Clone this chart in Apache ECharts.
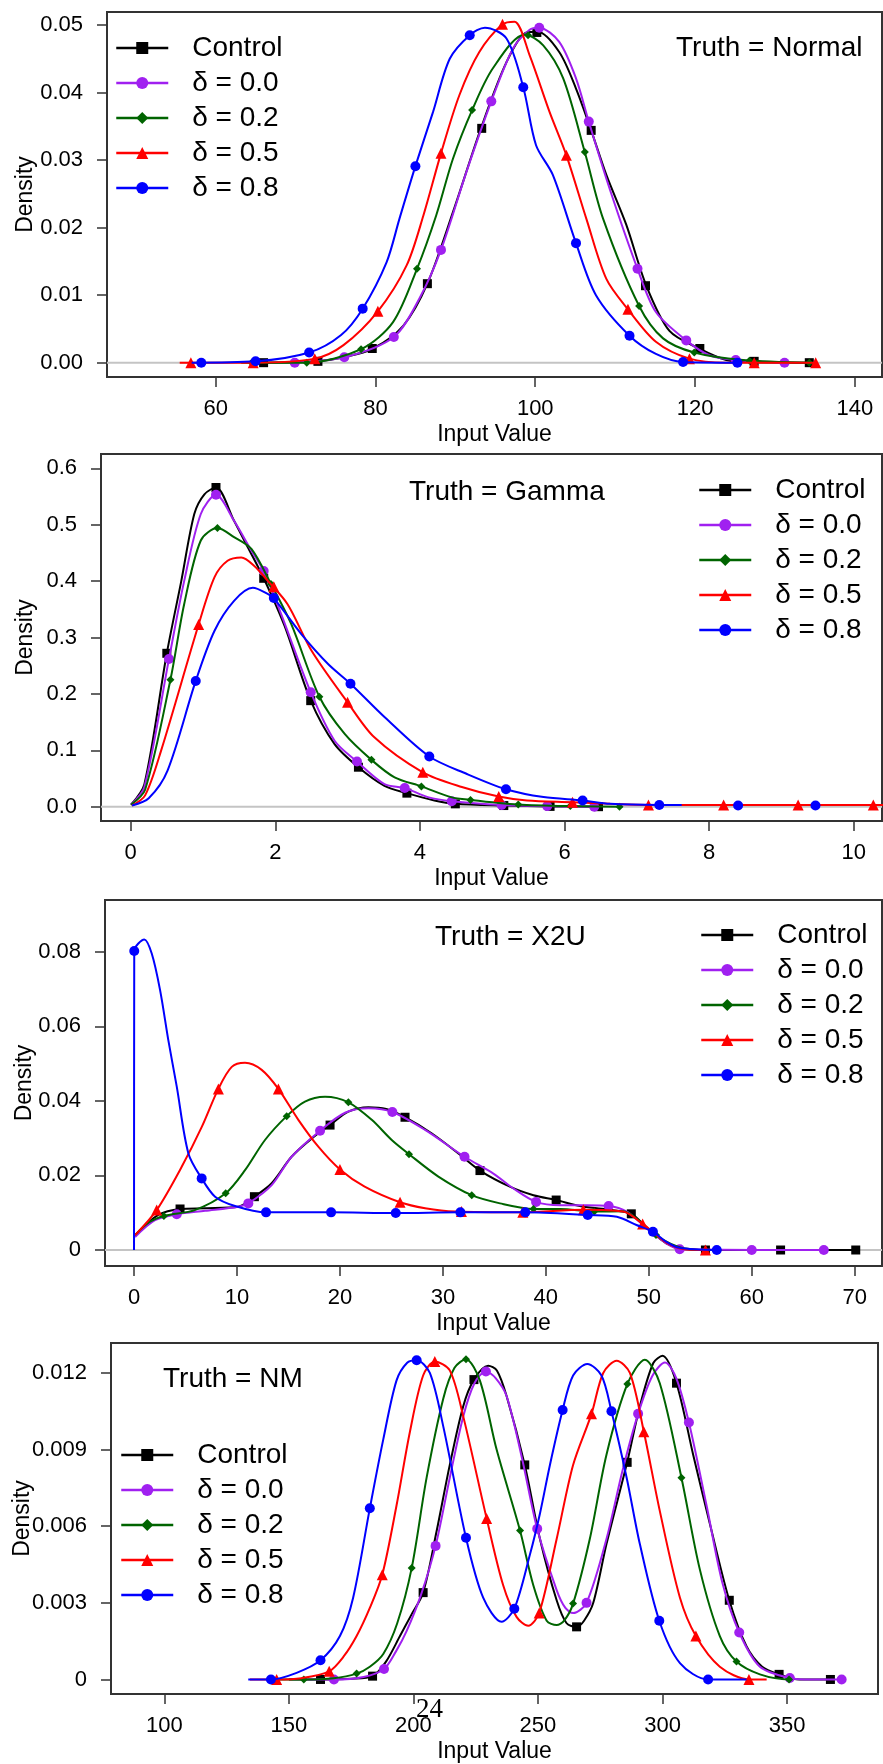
<!DOCTYPE html>
<html>
<head>
<meta charset="utf-8">
<script src="https://cdn.jsdelivr.net/npm/echarts@6/dist/echarts.min.js"></script>
<style>
html,body{margin:0;padding:0;background:#fff;}
#chart{width:883px;height:1764px;}
</style>
</head>
<body>
<div id="chart"></div>
<script>
// ---------------- DATA ----------------
const seriesNames = ['Control', 'δ = 0.0', 'δ = 0.2', 'δ = 0.5', 'δ = 0.8'];
const panelTitles = ['Truth = Normal', 'Truth = Gamma', 'Truth = X2U', 'Truth = NM'];

const xTicks1 = [60, 80, 100, 120, 140];
const yTicks1 = [0, 0.01, 0.02, 0.03, 0.04, 0.05];
const xTicks2 = [0, 2, 4, 6, 8, 10];
const yTicks2 = [0, 0.1, 0.2, 0.3, 0.4, 0.5, 0.6];
const xTicks3 = [0, 10, 20, 30, 40, 50, 60, 70];
const yTicks3 = [0, 0.02, 0.04, 0.06, 0.08];
const xTicks4 = [100, 150, 200, 250, 300, 350];
const yTicks4 = [0, 0.003, 0.006, 0.009, 0.012];

// Panel 1: Truth = Normal
const normalControl = [[65.5,0],[72.7,0.0002],[76,0.0008],[79.7,0.0021],[83.5,0.0055],[86.5,0.0117],[89.7,0.0223],[93.2,0.0347],[96.4,0.0445],[98.9,0.0489],[100.3,0.0490],[103,0.046],[105.1,0.0406],[107,0.0344],[108.9,0.0278],[111.4,0.0204],[113.9,0.0114],[116.8,0.0047],[120.5,0.0021],[123.9,0.0004],[127.4,0.0001],[134.5,0]];
const normalD0 = [[69.3,0],[76.1,0.0008],[82.3,0.0038],[85.5,0.0095],[88.2,0.0167],[91.4,0.0283],[94.5,0.0387],[97.2,0.0465],[99.3,0.0493],[100.5,0.0496],[103,0.0475],[105.1,0.0421],[106.7,0.0357],[109.3,0.0258],[112.8,0.0139],[115.1,0.0075],[118.9,0.0033],[121.8,0.0011],[125.1,0.0004],[131.5,0]];
const normalD2 = [[63.2,0],[71.4,0],[78.2,0.002],[82.2,0.006],[85.2,0.0139],[87.6,0.0218],[89.7,0.0302],[92.1,0.0374],[94.7,0.0436],[98.7,0.0486],[101,0.047],[103.5,0.0421],[106.2,0.0312],[108.5,0.0213],[113,0.0084],[116,0.0036],[119.9,0.0015],[126,0.0004],[134.5,0]];
const normalD5 = [[55.5,0],[64.7,0],[72.4,0.0006],[76,0.0026],[80.3,0.0076],[83.9,0.0144],[86,0.0218],[88.2,0.031],[90.5,0.0396],[93,0.046],[95.9,0.0501],[97.4,0.0505],[99.3,0.0455],[101.8,0.0371],[103.9,0.0307],[106.4,0.0213],[108.9,0.0124],[111.6,0.0079],[115.1,0.0031],[119.3,0.0006],[123.9,0],[135.1,0]];
const normalD8 = [[57,0],[65,0.0002],[71.7,0.0015],[75.7,0.0041],[78.4,0.008],[81.4,0.0149],[83,0.0213],[85,0.0291],[87.2,0.0371],[89.3,0.045],[91.8,0.0485],[93.7,0.0496],[96.4,0.048],[98.5,0.0408],[100.1,0.0322],[102.2,0.0278],[105.1,0.0177],[107.6,0.01],[111.8,0.004],[115.1,0.0013],[118.5,0.0001],[125.3,0]];
const normalControlMarks = [[66,0],[72.8,0.0002],[79.6,0.0021],[86.5,0.0117],[93.3,0.0347],[100.2,0.0489],[107,0.0344],[113.8,0.0114],[120.6,0.0021],[127.4,0.0002],[134.3,0]];
const normalD0Marks = [[69.9,0],[76.1,0.0008],[82.3,0.0038],[88.2,0.0167],[94.5,0.0387],[100.5,0.0496],[106.7,0.0357],[112.8,0.0139],[118.9,0.0033],[125.1,0.0004],[131.2,0]];
const normalD2Marks = [[64.5,0],[71.4,0],[78.2,0.002],[85.2,0.0139],[92.1,0.0374],[99.1,0.0485],[106.2,0.0312],[113,0.0084],[119.9,0.0015],[126.8,0.0003],[134.3,0]];
const normalD5Marks = [[56.9,0],[64.7,0],[72.4,0.0006],[80.3,0.0076],[88.2,0.031],[95.9,0.0501],[103.9,0.0307],[111.6,0.0079],[119.3,0.0006],[127.4,0],[135.1,0]];
const normalD8Marks = [[58.2,0],[65,0.0002],[71.7,0.0015],[78.4,0.008],[85,0.0291],[91.8,0.0485],[98.5,0.0408],[105.1,0.0177],[111.8,0.004],[118.5,0.0001],[125.3,0]];

// Panel 2: Truth = Gamma
const gammaControl = [[0.005,0.0035],[0.19,0.04],[0.5,0.272],[0.7,0.40],[0.88,0.519],[1.02,0.554],[1.18,0.566],[1.43,0.507],[1.62,0.46],[1.84,0.405],[2.13,0.32],[2.49,0.188],[2.82,0.111],[3.15,0.07],[3.51,0.037],[3.82,0.024],[4.2,0.011],[4.49,0.005],[5.16,0.002],[5.8,0.0005],[6.5,0]];
const gammaD0 = [[0.005,0.0035],[0.19,0.035],[0.53,0.262],[0.74,0.40],[0.97,0.519],[1.18,0.553],[1.43,0.507],[1.67,0.454],[1.84,0.418],[2.08,0.342],[2.49,0.203],[2.82,0.117],[3.13,0.08],[3.51,0.040],[3.79,0.033],[4.11,0.017],[4.44,0.0096],[5.13,0.003],[5.76,0.001],[6.45,0]];
const gammaD2 = [[0.005,0.0035],[0.2,0.03],[0.55,0.225],[0.74,0.359],[0.97,0.472],[1.2,0.494],[1.43,0.478],[1.67,0.457],[1.94,0.395],[2.22,0.324],[2.61,0.195],[2.96,0.129],[3.33,0.083],[3.65,0.052],[4.02,0.036],[4.43,0.017],[4.7,0.012],[5.36,0.004],[6.08,0.001],[6.8,0]];
const gammaD5 = [[0.02,0.002],[0.2,0.02],[0.42,0.099],[0.94,0.323],[1.16,0.407],[1.34,0.436],[1.53,0.442],[1.71,0.427],[1.9,0.40],[2.17,0.359],[2.5,0.277],[3.0,0.185],[3.37,0.123],[4.04,0.061],[4.58,0.035],[5.09,0.018],[5.48,0.011],[6.11,0.008],[6.63,0.005],[7.16,0.003],[8.2,0.003],[9.23,0.003],[10.6,0.003]];
const gammaD8 = [[0.02,0.002],[0.25,0.015],[0.51,0.064],[0.9,0.223],[1.16,0.312],[1.43,0.365],[1.69,0.388],[1.9,0.377],[1.98,0.37],[2.36,0.306],[2.73,0.253],[3.04,0.218],[3.51,0.159],[4.13,0.089],[4.65,0.058],[5.19,0.031],[5.71,0.017],[6.25,0.011],[6.63,0.005],[7.31,0.003],[7.62,0.003]];
const gammaControlMarks = [[0.5,0.272],[1.18,0.566],[1.84,0.405],[2.49,0.188],[3.15,0.07],[3.82,0.024],[4.49,0.005],[5.16,0.002],[5.8,0.0005],[6.47,0]];
const gammaD0Marks = [[0.53,0.262],[1.18,0.553],[1.84,0.418],[2.49,0.203],[3.13,0.08],[3.79,0.033],[4.44,0.0096],[5.13,0.003],[5.76,0.001],[6.41,0]];
const gammaD2Marks = [[0.55,0.225],[1.2,0.494],[1.94,0.395],[2.61,0.195],[3.33,0.083],[4.02,0.036],[4.7,0.012],[5.36,0.004],[6.08,0.001],[6.76,0]];
const gammaD5Marks = [[0.94,0.323],[1.98,0.39],[3.0,0.185],[4.04,0.061],[5.09,0.018],[6.11,0.008],[7.16,0.003],[8.2,0.003],[9.23,0.003],[10.27,0.003]];
const gammaD8Marks = [[0.9,0.223],[1.98,0.37],[3.04,0.218],[4.13,0.089],[5.19,0.031],[6.25,0.011],[7.31,0.003],[8.4,0.002],[9.47,0.002]];

// Panel 3: Truth = X2U
const x2uControl = [[0.1,0.004],[2.36,0.0094],[4.47,0.011],[6.9,0.0112],[10.13,0.0116],[11.69,0.0143],[13.37,0.0179],[15.3,0.025],[17.3,0.03],[19.04,0.0335],[20.82,0.0371],[22.76,0.0383],[24.5,0.0378],[26.32,0.0356],[28.9,0.0313],[31.5,0.0259],[33.6,0.0213],[36.5,0.017],[38.8,0.0147],[41,0.0134],[43.3,0.0118],[45.9,0.0109],[48.3,0.0097],[49.8,0.006],[51.7,0.0018],[53.5,0.0002],[55.5,0],[70.5,0]];
const x2uD0 = [[0.1,0.0035],[2.04,0.008],[4.15,0.0096],[6.9,0.0105],[10.13,0.0116],[11.1,0.0125],[13.37,0.0174],[15.3,0.025],[18.07,0.032],[20.5,0.0368],[22.76,0.038],[25.09,0.037],[28.27,0.0322],[32.1,0.025],[34.9,0.0205],[36.85,0.0165],[39.05,0.0129],[41.4,0.012],[43.97,0.012],[46.1,0.0118],[47.86,0.0103],[49.8,0.0058],[51.7,0.0018],[53,0.0002],[67,0]];
const x2uD2 = [[0.1,0.004],[1.5,0.0075],[3.0,0.0092],[5.9,0.0107],[8.9,0.0152],[10.78,0.0214],[12.72,0.0295],[14.83,0.0359],[16.6,0.0398],[18.55,0.0411],[20.82,0.0396],[23.09,0.0349],[25.03,0.0295],[26.71,0.0257],[29.56,0.0197],[32.8,0.0147],[35.55,0.0125],[38.8,0.011],[41.4,0.011],[44.7,0.0103],[47.5,0.0104],[49.15,0.0077],[50.4,0.0045],[52.7,0.001],[54.5,0.0001],[56.7,0]];
const x2uD5 = [[0.1,0.004],[2.2,0.0107],[4.63,0.0223],[6.58,0.033],[8.19,0.0432],[9.49,0.0491],[10.78,0.0502],[12.4,0.0483],[14.02,0.0432],[15.96,0.0349],[17.9,0.0277],[20,0.0216],[22.4,0.017],[25.84,0.0128],[28.27,0.0112],[31.2,0.0103],[37.76,0.0101],[43.64,0.0108],[47.5,0.0103],[49.4,0.007],[51.7,0.002],[53.5,0.0002],[55.5,0]];
const x2uD8 = [[0,0],[0.02,0.0802],[1.0,0.0833],[1.72,0.0795],[2.53,0.0697],[3.33,0.0563],[4.15,0.0438],[5.28,0.0259],[6.57,0.0192],[7.87,0.0143],[9.81,0.0118],[12.82,0.0101],[19.14,0.0101],[25.42,0.0099],[31.7,0.0101],[38,0.0101],[44.07,0.0094],[46.9,0.0089],[48.8,0.0067],[50.4,0.0049],[51.7,0.0022],[53,0.0006],[56.6,0]];
const x2uControlMarks = [[4.47,0.011],[11.69,0.0143],[19.04,0.0335],[26.32,0.0356],[33.6,0.0213],[41,0.0134],[48.3,0.0097],[55.5,0],[62.8,0],[70.1,0]];
const x2uD0Marks = [[4.15,0.0096],[11.1,0.0125],[18.07,0.032],[25.09,0.037],[32.1,0.025],[39.05,0.0129],[46.1,0.0118],[53,0.0002],[60,0],[67,0]];
const x2uD2Marks = [[2.9,0.0091],[8.9,0.0152],[14.83,0.0359],[20.82,0.0396],[26.71,0.0257],[32.8,0.0147],[38.8,0.011],[44.7,0.0103],[50.7,0.004],[56.7,0]];
const x2uD5Marks = [[2.2,0.0107],[8.19,0.0432],[14.02,0.0432],[20,0.0216],[25.84,0.0128],[31.8,0.0103],[37.76,0.0101],[43.64,0.0108],[49.4,0.007],[55.5,0]];
const x2uD8Marks = [[0.02,0.0802],[6.57,0.0192],[12.82,0.0101],[19.14,0.0101],[25.42,0.0099],[31.7,0.0101],[38,0.0101],[44.07,0.0094],[50.4,0.0049],[56.6,0]];

// Panel 4: Truth = NM
const nmControl = [[150,0],[162.7,0],[175,0.00003],[183.6,0.00013],[189,0.0007],[194.6,0.0017],[199,0.0025],[203.9,0.0034],[209.3,0.0058],[214.6,0.0084],[220,0.0107],[224.3,0.01174],[230,0.01228],[233.5,0.0121],[237.4,0.0111],[244.7,0.0084],[250.8,0.0055],[257.5,0.0031],[261.5,0.0022],[265.5,0.00206],[268.5,0.0023],[272.2,0.003],[277.5,0.0053],[285.8,0.0085],[290.9,0.0107],[296.3,0.01239],[300,0.01267],[305.6,0.0116],[312.3,0.0088],[319,0.0061],[326.8,0.0031],[333.7,0.0013],[340,0.0005],[346.8,0.0002],[355,0],[368,0]];
const nmD0 = [[155,0],[168.1,0],[180,0.0001],[188.2,0.00041],[193,0.0011],[197.3,0.0019],[203,0.0033],[208.9,0.00523],[214.6,0.0079],[220,0.0103],[224.5,0.0116],[229.1,0.01206],[233,0.0118],[237.4,0.0111],[243.5,0.0087],[249.7,0.0059],[257.5,0.0035],[261,0.0028],[264.1,0.0026],[269.5,0.003],[277.5,0.0055],[284,0.0082],[290.2,0.0104],[296,0.0119],[301,0.01241],[305.5,0.0118],[310.6,0.01006],[317.7,0.0068],[324,0.0038],[330.8,0.00184],[339.1,0.0005],[351.1,0.00006],[360,0],[372.5,0]];
const nmD2 = [[143.7,0],[156,0],[168,0.00005],[177.2,0.00023],[182.5,0.0005],[187.9,0.001],[193.5,0.0022],[199.3,0.00436],[205.3,0.0079],[212,0.011],[216.5,0.0122],[221.1,0.01254],[226.7,0.0117],[233.4,0.009],[242.8,0.00583],[248.1,0.0037],[253.5,0.0023],[257.5,0.00213],[260.5,0.0023],[264.1,0.00297],[270.8,0.0055],[277.5,0.0088],[285.9,0.01157],[292.9,0.01252],[298.9,0.0116],[307.6,0.0079],[315,0.0043],[323,0.0017],[329.7,0.0007],[339.1,0.0002],[350.8,0],[352,0]];
const nmD5 = [[134.4,0],[145.1,0],[155,0.00005],[166.2,0.00032],[172,0.0009],[177.2,0.0017],[182.5,0.0028],[187.5,0.0041],[193.2,0.0068],[198.6,0.0097],[203.9,0.0119],[208.6,0.01245],[214.6,0.0121],[220,0.0103],[229.4,0.0063],[236,0.0037],[241.4,0.00245],[246.1,0.0021],[250.5,0.0026],[257.5,0.0055],[264.1,0.0084],[271.5,0.0104],[276.2,0.012],[281.6,0.01248],[286.9,0.012],[292.5,0.0097],[298.9,0.0066],[307,0.0032],[313.4,0.0017],[323,0.0005],[334.7,0],[341.8,0]];
const nmD8 = [[133.7,0],[142.8,0],[153.1,0.00026],[162.7,0.00075],[170.5,0.0017],[175.8,0.0032],[182.5,0.0067],[187.9,0.0094],[193.2,0.0117],[197.5,0.0124],[201.3,0.0125],[206.6,0.012],[212,0.0099],[221.1,0.00555],[228,0.0032],[235.4,0.00226],[240.5,0.00277],[246.8,0.0049],[250.8,0.0065],[254.8,0.0084],[259.9,0.01055],[264.1,0.0119],[269.8,0.01235],[275.5,0.0119],[279.5,0.0105],[285.6,0.0079],[290.9,0.0053],[298.7,0.0023],[307,0.00064],[318.3,0],[333.7,0]];
const nmControlMarks = [[162.7,0],[183.6,0.00013],[203.9,0.0034],[224.3,0.01174],[244.7,0.0084],[265.5,0.00206],[285.8,0.0085],[305.6,0.0116],[326.8,0.0031],[346.8,0.0002],[367.4,0]];
const nmD0Marks = [[168.1,0],[188.2,0.00041],[208.9,0.00523],[229.1,0.01206],[249.7,0.0059],[269.5,0.003],[290.2,0.0104],[310.6,0.01006],[330.8,0.00184],[351.1,0.00006],[371.9,0]];
const nmD2Marks = [[156,0],[177.2,0.00023],[199.3,0.00436],[221.1,0.01254],[242.8,0.00583],[264.1,0.00297],[285.9,0.01157],[307.6,0.0079],[329.7,0.0007],[350.8,0]];
const nmD5Marks = [[145.1,0],[166.2,0.00032],[187.5,0.0041],[208.6,0.01245],[229.4,0.0063],[250.5,0.0026],[271.5,0.0104],[292.5,0.0097],[313.4,0.0017],[334.7,0]];
const nmD8Marks = [[142.8,0],[162.7,0.00075],[182.5,0.0067],[201.3,0.0125],[221.1,0.00555],[240.5,0.00277],[259.9,0.01055],[279.5,0.0105],[298.7,0.0023],[318.3,0]];

// ---------------- LAYOUT / STYLE ----------------
const FONT = '"Liberation Sans", Arial, sans-serif';
const colors = ['#000000', '#A020F0', '#006400', '#FF0000', '#0000FF'];
const symbols = ['rect', 'circle', 'diamond', 'triangle', 'circle'];
const symbolSizes = [9, 10, 8, 11, 10];

const panels = [
  { grid: {left: 107, top: 12, width: 775, height: 365}, xr: [46.4, 143.4], yr: [-0.00212, 0.05193],
    xt: xTicks1, yt: yTicks1, yfmt: v => v.toFixed(2), baseline: true,
    curves: [normalControl, normalD0, normalD2, normalD5, normalD8],
    marks: [normalControlMarks, normalD0Marks, normalD2Marks, normalD5Marks, normalD8Marks],
    legend: {left: 115, top: 34}, title: {left: 676, top: 34}, yGap: 70 },
  { grid: {left: 101, top: 454, width: 781, height: 367}, xr: [-0.41, 10.39], yr: [-0.0254, 0.6254],
    xt: xTicks2, yt: yTicks2, yfmt: v => v.toFixed(1), baseline: true,
    curves: [gammaControl, gammaD0, gammaD2, gammaD5, gammaD8],
    marks: [gammaControlMarks, gammaD0Marks, gammaD2Marks, gammaD5Marks, gammaD8Marks],
    legend: {left: 698, top: 476}, title: {left: 409, top: 478}, yGap: 64 },
  { grid: {left: 105, top: 900, width: 777, height: 366}, xr: [-2.82, 72.65], yr: [-0.00429, 0.09386],
    xt: xTicks3, yt: yTicks3, yfmt: v => (v === 0 ? '0' : v.toFixed(2)), baseline: true,
    curves: [x2uControl, x2uD0, x2uD2, x2uD5, x2uD8],
    marks: [x2uControlMarks, x2uD0Marks, x2uD2Marks, x2uD5Marks, x2uD8Marks],
    legend: {left: 700, top: 921}, title: {left: 435, top: 923}, yGap: 69 },
  { grid: {left: 111, top: 1343, width: 767, height: 355}, xr: [78.6, 386.5], yr: [-0.000569, 0.013173],
    xt: xTicks4, yt: yTicks4, yfmt: v => (v === 0 ? '0' : v.toFixed(3)), baseline: false,
    curves: [nmControl, nmD0, nmD2, nmD5, nmD8],
    marks: [nmControlMarks, nmD0Marks, nmD2Marks, nmD5Marks, nmD8Marks],
    legend: {left: 120, top: 1441}, title: {left: 163, top: 1365}, yGap: 77 }
];

const grids = [], xAxes = [], yAxes = [], series = [], legends = [], titles = [];
panels.forEach((p, i) => {
  grids.push(Object.assign({show: true, borderColor: '#333', borderWidth: 2, backgroundColor: 'transparent'}, p.grid));
  xAxes.push({
    gridIndex: i, type: 'value', min: p.xr[0], max: p.xr[1],
    axisLine: {show: false, onZero: false},
    axisTick: {show: true, length: 10, customValues: p.xt, lineStyle: {color: '#333', width: 1.5}},
    axisLabel: {customValues: p.xt, fontSize: 22, fontFamily: FONT, color: '#000', margin: 21},
    splitLine: {show: false},
    name: 'Input Value', nameLocation: 'middle', nameGap: 46, nameMoveOverlap: false,
    nameTextStyle: {fontSize: 23, fontFamily: FONT, color: '#000'}
  });
  yAxes.push({
    gridIndex: i, type: 'value', min: p.yr[0], max: p.yr[1],
    axisLine: {show: false, onZero: false},
    axisTick: {show: true, length: 10, customValues: p.yt, lineStyle: {color: '#333', width: 1.5}},
    axisLabel: {customValues: p.yt, fontSize: 22, fontFamily: FONT, color: '#000', margin: 24, formatter: p.yfmt},
    splitLine: {show: false},
    name: 'Density', nameLocation: 'middle', nameGap: p.yGap, nameRotate: 90, nameMoveOverlap: false,
    nameTextStyle: {fontSize: 23, fontFamily: FONT, color: '#000'}
  });
  if (p.baseline) {
    series.push({
      type: 'line', xAxisIndex: i, yAxisIndex: i, silent: true, symbol: 'none', z: 1,
      data: [[p.xr[0], 0], [p.xr[1], 0]],
      lineStyle: {color: '#c4c4c4', width: 2}
    });
  }
  p.curves.forEach((c, k) => {
    series.push({
      name: seriesNames[k], type: 'line', xAxisIndex: i, yAxisIndex: i,
      data: c, smooth: 0.3, showSymbol: false, symbol: symbols[k], symbolSize: symbolSizes[k],
      lineStyle: {color: colors[k], width: 2}, itemStyle: {color: colors[k]},
      z: 3 + k, silent: true
    });
  });
  p.marks.forEach((m, k) => {
    series.push({
      name: seriesNames[k], type: 'scatter', xAxisIndex: i, yAxisIndex: i,
      data: m, symbol: symbols[k], symbolSize: symbolSizes[k],
      itemStyle: {color: colors[k], opacity: 1}, z: 3 + k, silent: true
    });
  });
  legends.push({
    data: seriesNames, orient: 'vertical', left: p.legend.left, top: p.legend.top,
    itemWidth: 52, itemHeight: 15, itemGap: 7, padding: 0, selectedMode: false,
    lineStyle: {width: 2.5},
    textStyle: {fontSize: 28, fontFamily: FONT, color: '#000', padding: [0, 0, 0, 19]}
  });
  titles.push({
    text: panelTitles[i], left: p.title.left, top: p.title.top, padding: 0,
    textStyle: {fontSize: 28, fontWeight: 'normal', fontFamily: FONT, color: '#000'}
  });
});

const chart = echarts.init(document.getElementById('chart'), null, {renderer: 'canvas'});
chart.setOption({
  animation: false,
  backgroundColor: '#ffffff',
  title: titles,
  legend: legends,
  grid: grids,
  xAxis: xAxes,
  yAxis: yAxes,
  series: series,
  graphic: [{
    type: 'text', left: 416, top: 1696, z: 100,
    style: {text: '24', font: '27px "Liberation Serif", serif', fill: '#000'}
  }]
});
</script>
</body>
</html>
